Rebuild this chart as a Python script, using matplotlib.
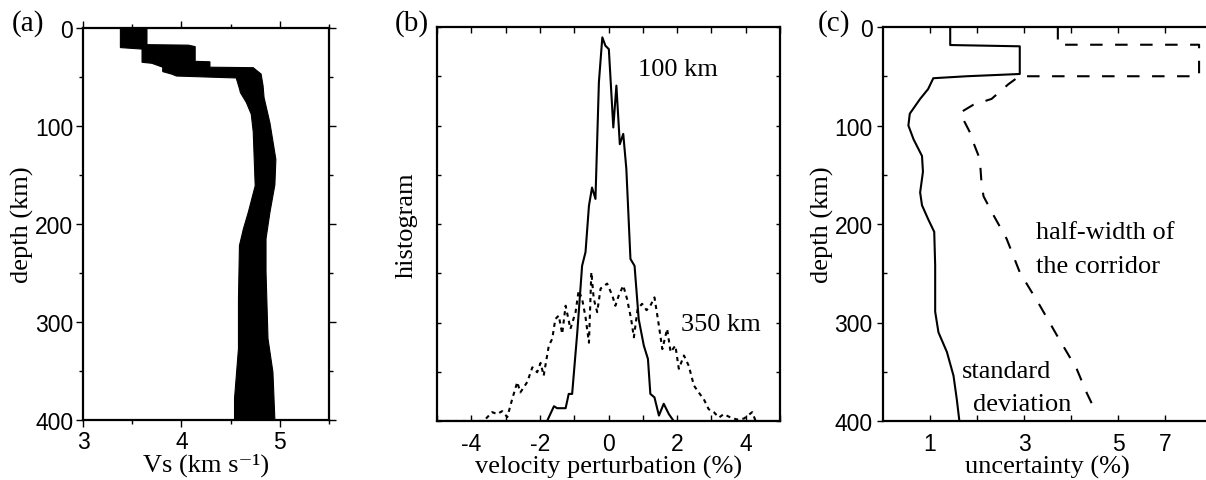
import numpy as np
import matplotlib
matplotlib.use("Agg")
import matplotlib.pyplot as plt
from matplotlib.ticker import MultipleLocator, FixedLocator, NullFormatter

plt.rcParams["font.family"] = ["Liberation Serif", "DejaVu Serif"]
plt.rcParams["axes.unicode_minus"] = False

SANS = "Liberation Sans"

# -----------------------------
# (a) envelope of the Vs models
# -----------------------------
left_depth = [0, 20, 21.5, 35, 36, 40, 44.5, 47, 49, 51, 52, 62, 66, 76, 88,
              106, 161, 188, 205, 222, 276, 327, 378, 400]
left_vs = [3.38, 3.38, 3.60, 3.60, 3.70, 3.81, 3.81, 3.90, 3.95, 4.56, 4.56,
           4.59, 4.60, 4.66, 4.71, 4.73, 4.75, 4.68, 4.63, 4.59, 4.58, 4.58,
           4.54, 4.54]
right_depth = [0, 17, 17.5, 19, 34, 34.5, 40, 40.5, 47, 59, 71, 97, 134, 160,
               188, 215, 249, 317, 351, 400]
right_vs = [3.65, 3.65, 4.07, 4.14, 4.14, 4.29, 4.29, 4.73, 4.81, 4.83, 4.84,
            4.90, 4.96, 4.95, 4.90, 4.86, 4.86, 4.88, 4.93, 4.95]

# -----------------------------
# (b) histograms of perturbation
# -----------------------------
h100_x = [-5.0, -1.79, -1.59, -1.50, -1.25, -1.16, -1.06, -0.91, -0.77, -0.67,
          -0.57, -0.48, -0.38, -0.28, -0.18, -0.09, 0.01, 0.14, 0.23, 0.33,
          0.43, 0.52, 0.64, 0.76, 0.88, 1.03, 1.15, 1.22, 1.34, 1.47, 1.61,
          1.76, 1.90, 5.0]
h100_y = [0, 0, 0.30, 0.26, 0.26, 0.55, 0.55, 1.80, 3.15, 3.43, 4.37, 4.74,
          4.51, 6.88, 7.79, 7.62, 7.55, 5.96, 6.81, 5.62, 5.83, 5.12, 3.29,
          3.15, 2.07, 1.53, 1.26, 0.55, 0.48, 0.11, 0.35, 0.14, 0, 0]

h350_x = [-5.0, -3.64, -3.39, -3.25, -3.10, -2.95, -2.81, -2.66, -2.57, -2.37,
          -2.22, -2.08, -1.98, -1.89, -1.74, -1.64, -1.55, -1.45, -1.35, -1.25,
          -1.11, -0.96, -0.87, -0.77, -0.67, -0.57, -0.50, -0.43, -0.33, -0.23,
          -0.04, 0.11, 0.20, 0.30, 0.43, 0.54, 0.66, 0.74, 0.85, 0.98, 1.11,
          1.22, 1.34, 1.44, 1.57, 1.71, 1.81, 1.95, 2.05, 2.20, 2.34, 2.49,
          2.63, 2.78, 2.92, 3.07, 3.22, 3.36, 3.56, 3.75, 3.95, 4.19, 4.29]
h350_y = [0, 0, 0.18, 0.14, 0.20, 0.08, 0.44, 0.79, 0.58, 0.79, 1.09, 0.99,
          1.18, 0.92, 1.53, 1.67, 2.07, 2.14, 1.77, 2.34, 1.87, 2.21, 2.65,
          2.48, 2.11, 1.59, 3.02, 2.48, 2.21, 2.69, 2.79, 2.55, 2.34, 2.55,
          2.75, 2.48, 2.07, 1.70, 2.28, 2.38, 2.25, 2.34, 2.51, 2.07, 1.46,
          1.87, 1.40, 1.53, 1.06, 1.33, 1.12, 0.72, 0.58, 0.44, 0.24, 0.18,
          0.07, 0.14, 0.07, 0.03, 0.05, 0.18, 0.0]

# -----------------------------
# (c) uncertainty profiles
# -----------------------------
std_depth = [0, 18.3, 19.6, 47.7, 50, 52, 63, 73, 88, 100, 114, 131, 147, 168,
             181, 195, 208, 242, 289, 310, 330, 354, 378, 398]
std_val = [1.43, 1.43, 2.91, 2.91, 1.78, 1.07, 0.96, 0.79, 0.57, 0.54, 0.65,
           0.83, 0.85, 0.79, 0.83, 0.96, 1.09, 1.11, 1.11, 1.18, 1.36, 1.50,
           1.57, 1.62]

half_depth = [0, 18, 18, 50, 50, 58, 73, 79, 87, 94, 107, 117, 134, 161, 172,
              191, 215, 249, 283, 313, 347, 371, 393]
half_val = [3.72, 3.72, 8.45, 8.45, 2.90, 2.67, 2.31, 1.92, 1.64, 1.71, 1.85,
            1.92, 2.06, 2.10, 2.14, 2.35, 2.63, 2.91, 3.34, 3.70, 4.12, 4.33,
            4.55]


def unc_fwd(x):
    x = np.asarray(x, dtype=float)
    return np.where(x <= 5, x, 5 + (x - 5) / 2)


def unc_inv(t):
    t = np.asarray(t, dtype=float)
    return np.where(t <= 5, t, 5 + (t - 5) * 2)


W, H = 1206, 481
fig = plt.figure(figsize=(W / 100, H / 100), dpi=100)


def px_axes(x0, x1, y0, y1):
    return fig.add_axes([x0 / W, (H - y1) / H, (x1 - x0) / W, (y1 - y0) / H])


def style_spines(ax):
    for s in ax.spines.values():
        s.set_linewidth(1.6)


LW = 1.5
TICK_FS = 16.5
LAB_FS = 19

# -----------------------------
# Panel (a)
# -----------------------------
ax1 = px_axes(83, 329, 29, 421)
poly_vs = np.concatenate([left_vs, right_vs[::-1]])
poly_d = np.concatenate([left_depth, right_depth[::-1]])
ax1.fill(poly_vs, poly_d, color="black", lw=0.8, edgecolor="black")
ax1.set_xlim(3, 5.5)
ax1.set_ylim(400, 0)
ax1.xaxis.set_major_locator(FixedLocator([3, 4, 5]))
ax1.xaxis.set_minor_locator(FixedLocator([3.5, 4.5, 5.5]))
ax1.yaxis.set_major_locator(MultipleLocator(100))
ax1.yaxis.set_minor_locator(MultipleLocator(50))
ax1.tick_params(which="both", direction="out", top=True, right=True,
                width=1.0, labelsize=TICK_FS, labelfontfamily=SANS)
ax1.tick_params(which="major", length=5, pad=2)
ax1.tick_params(which="minor", length=3)
ax1.set_xlabel("Vs (km s\u207b\u00b9)", fontsize=LAB_FS, labelpad=0)
ax1.set_ylabel("depth (km)", fontsize=LAB_FS, labelpad=1)
style_spines(ax1)

# -----------------------------
# Panel (b)
# -----------------------------
ax2 = px_axes(437, 780, 28, 422)
ax2.plot(h100_x, h100_y, color="black", lw=LW)
ax2.plot(h350_x, h350_y, color="black", lw=LW, linestyle=(0, (2, 2)))
ax2.set_xlim(-5, 5)
ax2.set_ylim(0, 8)
ax2.xaxis.set_major_locator(MultipleLocator(2))
ax2.xaxis.set_minor_locator(MultipleLocator(1))
ax2.yaxis.set_major_locator(MultipleLocator(1))
ax2.yaxis.set_major_formatter(NullFormatter())
ax2.tick_params(which="both", direction="in", top=True, right=True,
                width=1.0, labelsize=TICK_FS, labelfontfamily=SANS)
ax2.tick_params(which="major", length=4, pad=8)
ax2.tick_params(which="minor", length=4)
ax2.tick_params(axis="y", length=3)
ax2.set_xlabel("velocity perturbation (%)", fontsize=LAB_FS, labelpad=0)
ax2.set_ylabel("histogram", fontsize=LAB_FS, labelpad=6)
ax2.text(0.85, 7.15, "100 km", fontsize=LAB_FS, ha="left", va="center")
ax2.text(2.1, 1.97, "350 km", fontsize=LAB_FS, ha="left", va="center")
style_spines(ax2)

# -----------------------------
# Panel (c)
# -----------------------------
ax3 = px_axes(883, 1212, 28, 422)
ax3.set_xscale("function", functions=(unc_fwd, unc_inv))
ax3.plot(std_val, std_depth, color="black", lw=LW)
ax3.plot(half_val, half_depth, color="black", lw=LW, linestyle=(0, (6, 6)))
ax3.set_xlim(0, 9)
ax3.set_ylim(400, 0)
ax3.xaxis.set_major_locator(FixedLocator([1, 3, 5, 7]))
ax3.xaxis.set_minor_locator(FixedLocator([2, 4]))
ax3.xaxis.set_minor_formatter(NullFormatter())
ax3.yaxis.set_major_locator(MultipleLocator(100))
ax3.yaxis.set_minor_locator(MultipleLocator(50))
ax3.tick_params(axis="x", which="both", direction="in", top=True,
                length=4, width=1.0, pad=8)
ax3.tick_params(axis="y", which="major", direction="out", length=4, width=1.0)
ax3.tick_params(axis="y", which="minor", direction="in", length=3, width=1.0)
ax3.tick_params(labelsize=TICK_FS, labelfontfamily=SANS)
ax3.set_xlabel("uncertainty (%)", fontsize=LAB_FS, labelpad=0)
ax3.set_ylabel("depth (km)", fontsize=LAB_FS, labelpad=0)
ax3.text(3.26, 208, "half-width of", fontsize=LAB_FS, ha="left", va="center")
ax3.text(3.26, 243, "the corridor", fontsize=LAB_FS, ha="left", va="center")
ax3.text(1.68, 349, "standard", fontsize=LAB_FS, ha="left", va="center")
ax3.text(1.91, 383, "deviation", fontsize=LAB_FS, ha="left", va="center")
style_spines(ax3)

# panel letters
for xp, label in [(12, "(a)"), (395, "(b)"), (818, "(c)")]:
    fig.text(xp / W, 1 - 24 / H, label, fontsize=21, ha="left", va="center")

fig.savefig("out.png", dpi=100)
